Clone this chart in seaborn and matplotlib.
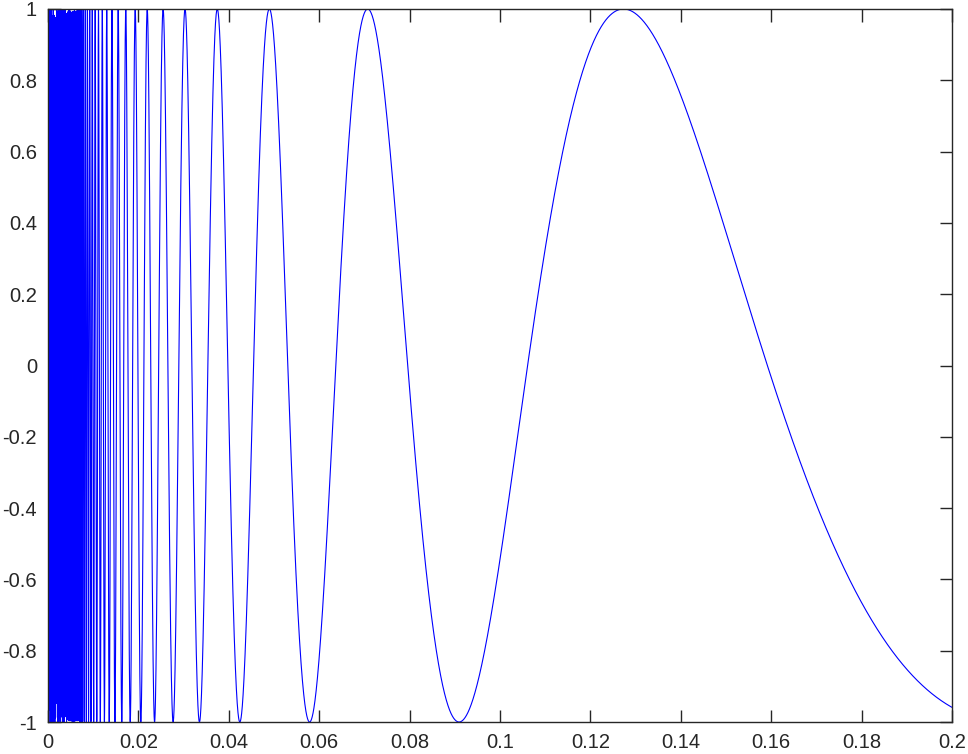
import numpy as np
import pandas as pd
import seaborn as sns
import matplotlib.pyplot as plt

# curve: y = sin(1/x) sampled over (0, 0.2]
x_start = 0.0001
x_end = 0.2
n_points = 20000
x_vals = np.linspace(x_start, x_end, n_points)
y_vals = np.sin(1.0 / x_vals)

x_ticks = [0, 0.02, 0.04, 0.06, 0.08, 0.1, 0.12, 0.14, 0.16, 0.18, 0.2]
x_labels = ['0', '0.02', '0.04', '0.06', '0.08', '0.1', '0.12', '0.14', '0.16', '0.18', '0.2']
y_ticks = [-1, -0.8, -0.6, -0.4, -0.2, 0, 0.2, 0.4, 0.6, 0.8, 1]
y_labels = ['-1', '-0.8', '-0.6', '-0.4', '-0.2', '0', '0.2', '0.4', '0.6', '0.8', '1']

df = pd.DataFrame({'x': x_vals, 'y': y_vals})

sns.set_style("ticks")
plt.rcParams['font.family'] = ['Liberation Sans', 'DejaVu Sans']

fig = plt.figure(figsize=(9.68, 7.54), dpi=100)
ax = fig.add_axes([48 / 968, 1 - 722 / 754, (952 - 48) / 968, (722 - 9) / 754])

sns.lineplot(data=df, x='x', y='y', ax=ax, color='#0000ff', linewidth=0.8,
             sort=False, estimator=None)

ax.set_xlim(0, 0.2)
ax.set_ylim(-1, 1)
ax.set_xticks(x_ticks)
ax.set_xticklabels(x_labels)
ax.set_yticks(y_ticks)
ax.set_yticklabels(y_labels)
ax.set_xlabel('')
ax.set_ylabel('')

for s in ax.spines.values():
    s.set_visible(True)
    s.set_color('#262626')
    s.set_linewidth(1.0)
ax.tick_params(direction='in', length=9, width=1.0, colors='#262626',
               labelsize=14.5, top=True, right=True, pad=8)

fig.savefig('out.png', dpi=100)
